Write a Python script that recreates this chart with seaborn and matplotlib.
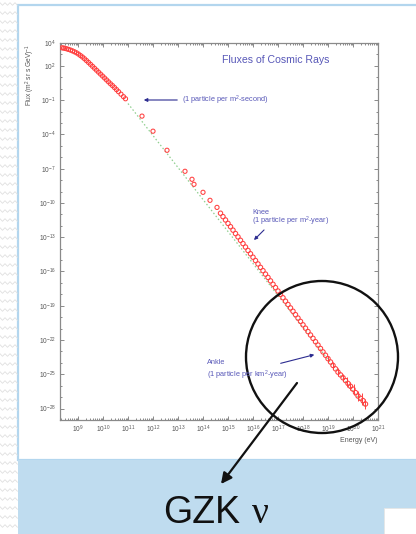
import numpy as np
import pandas as pd
import matplotlib
matplotlib.use("Agg")
import matplotlib.pyplot as plt
import seaborn as sns
from matplotlib.patches import Circle, Rectangle, FancyArrowPatch
from matplotlib.ticker import FixedLocator, FuncFormatter, NullFormatter

sns.set_style("ticks")
plt.rcParams['font.family'] = ['Liberation Sans', 'DejaVu Sans']
plt.rcParams['mathtext.fontset'] = 'custom'
plt.rcParams['mathtext.rm'] = 'Liberation Sans'
plt.rcParams['mathtext.it'] = 'Liberation Sans'

# ---------------- data (log10 energy [eV], log10 flux) ----------------
low_logE = [8.36, 8.42, 8.48, 8.55, 8.62, 8.70, 8.78, 8.86, 8.94, 9.02, 9.10,
            9.18, 9.26, 9.34, 9.42, 9.50, 9.58, 9.66, 9.74, 9.82, 9.90, 9.98,
            10.06, 10.14, 10.22, 10.30, 10.38, 10.46, 10.54, 10.62, 10.72,
            10.82, 10.90]
low_logF = [3.58, 3.56, 3.53, 3.49, 3.44, 3.38, 3.31, 3.23, 3.14, 3.03, 2.90,
            2.77, 2.62, 2.46, 2.30, 2.13, 1.96, 1.79, 1.62, 1.45, 1.28, 1.11,
            0.94, 0.77, 0.60, 0.43, 0.27, 0.10, -0.08, -0.26, -0.48,
            -0.70, -0.88]

mid_logE = [11.56, 12.00, 12.56, 13.28, 13.56, 13.64, 14.00, 14.28, 14.56]
mid_logF = [-2.40, -3.72, -5.39, -7.23, -7.93, -8.37, -9.07, -9.77, -10.39]

high_logE = [14.7, 14.8, 14.9, 15.0, 15.1, 15.2, 15.3, 15.4, 15.5, 15.6, 15.7,
             15.8, 15.9, 16.0, 16.1, 16.2, 16.3, 16.4, 16.5, 16.6, 16.7, 16.8,
             16.9, 17.0, 17.1, 17.2, 17.3, 17.4, 17.5, 17.6, 17.7, 17.8, 17.9,
             18.0, 18.1, 18.2, 18.3, 18.4, 18.5, 18.6, 18.7, 18.8, 18.9, 19.0,
             19.1, 19.2, 19.3, 19.4, 19.5, 19.6, 19.7, 19.8, 19.9, 20.0, 20.1,
             20.2, 20.3, 20.4, 20.5]
high_logF = [-10.90, -11.20, -11.49, -11.79, -12.08, -12.38, -12.68, -12.97,
             -13.27, -13.56, -13.86, -14.16, -14.45, -14.75, -15.04, -15.34,
             -15.64, -15.93, -16.23, -16.52, -16.82, -17.12, -17.41, -17.71,
             -18.00, -18.30, -18.60, -18.89, -19.19, -19.48, -19.78, -20.08,
             -20.37, -20.67, -20.96, -21.26, -21.56, -21.85, -22.15, -22.44,
             -22.74, -23.04, -23.33, -23.63, -23.92, -24.22, -24.52, -24.81,
             -25.05, -25.30, -25.55, -25.80, -26.05, -26.30, -26.60, -26.90,
             -27.10, -27.30, -27.60]

err_logE = [19.0, 19.2, 19.4, 19.6, 19.75, 19.9, 20.05, 20.2, 20.35, 20.5]
err_logF = [-23.63, -24.22, -24.81, -25.30, -25.65, -26.00, -26.35, -26.90, -27.15, -27.60]
err_half = [0.25, 0.3, 0.35, 0.3, 0.45, 0.35, 0.5, 0.45, 0.5, 0.45]

fit_logE = [11.0, 20.5]
fit_logF = [-1.3, -27.9]

y_label_exps = [4, 2, -1, -4, -7, -10, -13, -16, -19, -22, -25, -28]
x_label_exps = list(range(9, 22))

RED = '#ff4040'
ANN = '#5858b8'
ARR = '#2c2c90'

W, H = 416, 534
fig = plt.figure(figsize=(W / 100, H / 100), dpi=100)
fig.patch.set_facecolor('white')

# background overlay (pixel coordinates)
bg = fig.add_axes([0, 0, 1, 1], zorder=0)
bg.set_xlim(0, W); bg.set_ylim(H, 0); bg.axis('off')
for y0 in np.arange(4, H, 9):
    xs = np.arange(0, 18.5, 2.5)
    ys = y0 + np.where(np.arange(len(xs)) % 2 == 0, -1.3, 1.3)
    bg.plot(xs, ys, color='#e0e0e0', lw=0.6)
bg.add_patch(Rectangle((18, 5), 420, 455, facecolor='white', edgecolor='#b3d6ee', lw=1.6))
bg.add_patch(Rectangle((18, 460), 400, 76, facecolor='#bfdcef', edgecolor='none'))
bg.add_patch(Rectangle((384, 508), 40, 30, facecolor='white', edgecolor='#e6e6e6', lw=0.6))

# main axes
ax = fig.add_axes([60 / W, 1 - 420 / H, 318 / W, 377 / H], zorder=1)
ax.set_facecolor('white')

df_low = pd.DataFrame({'E': 10.0 ** np.array(low_logE), 'F': 10.0 ** np.array(low_logF)})
df_mid = pd.DataFrame({'E': 10.0 ** np.array(mid_logE), 'F': 10.0 ** np.array(mid_logF)})
df_high = pd.DataFrame({'E': 10.0 ** np.array(high_logE), 'F': 10.0 ** np.array(high_logF)})
df_fit = pd.DataFrame({'E': 10.0 ** np.array(fit_logE), 'F': 10.0 ** np.array(fit_logF)})

ax.set_xscale('log'); ax.set_yscale('log')
sns.lineplot(data=df_fit, x='E', y='F', ax=ax, color='#8fcf8f', lw=0.9,
             linestyle=(0, (1.2, 1.8)), zorder=2)
for d, s in ((df_low, 9), (df_mid, 9), (df_high, 10)):
    sns.scatterplot(data=d, x='E', y='F', ax=ax, marker='o', s=s,
                    facecolor='none', edgecolor=RED, linewidth=0.75, zorder=3)
eE = 10.0 ** np.array(err_logE)
eF = np.array(err_logF); eh = np.array(err_half)
ax.vlines(eE, 10.0 ** (eF - eh), 10.0 ** (eF + eh), color=RED, lw=0.7, zorder=3)

ax.set_xlim(10 ** 8.28, 1e21)
ax.set_ylim(1e-29, 1e4)
ax.set_xlabel(''); ax.set_ylabel('')

ax.xaxis.set_major_locator(FixedLocator([10.0 ** e for e in x_label_exps]))
ax.xaxis.set_minor_locator(FixedLocator([m * 10.0 ** e for e in range(8, 21) for m in range(2, 10)
                                         if 10 ** 8.28 < m * 10.0 ** e < 1e21]))
ax.xaxis.set_major_formatter(FuncFormatter(lambda v, p: r'$10^{%d}$' % round(np.log10(v))))
ax.xaxis.set_minor_formatter(NullFormatter())
ax.yaxis.set_major_locator(FixedLocator([10.0 ** e for e in y_label_exps]))
ax.yaxis.set_minor_locator(FixedLocator([10.0 ** e for e in range(-29, 5)]))
ax.yaxis.set_major_formatter(FuncFormatter(lambda v, p: r'$10^{%d}$' % round(np.log10(v))))
ax.yaxis.set_minor_formatter(NullFormatter())
ax.tick_params(which='both', direction='in', top=True, right=True, color='#777777',
               labelsize=4.8, labelcolor='#555555', width=0.6)
ax.tick_params(which='major', length=3.2, pad=3)
ax.tick_params(which='minor', length=1.6)
for sp in ax.spines.values():
    sp.set_color('#8a8a8a'); sp.set_linewidth(0.9)

# foreground overlay (pixel coordinates)
fg = fig.add_axes([0, 0, 1, 1], zorder=5)
fg.set_xlim(0, W); fg.set_ylim(H, 0); fg.axis('off'); fg.patch.set_alpha(0)

fg.text(30, 75, r'Flux (m$^2$ sr s GeV)$^{-1}$', rotation=90, ha='center', va='center',
        fontsize=4.8, color='#555555')
fg.text(378, 440, 'Energy (eV)', ha='right', va='center', fontsize=5, color='#555555')
fg.text(222, 60, 'Fluxes of Cosmic Rays', ha='left', va='center', fontsize=7.6, color=ANN)

fg.text(182, 100, r'(1 particle per m$^2$-second)', ha='left', va='center', fontsize=5.3, color=ANN)
fg.add_patch(FancyArrowPatch((180, 100), (141, 100), arrowstyle='-|>', mutation_scale=5,
                             color=ARR, lw=0.8))
fg.text(252, 212, 'Knee', ha='left', va='center', fontsize=5.3, color=ANN)
fg.text(252, 221, r'(1 particle per m$^2$-year)', ha='left', va='center', fontsize=5.3, color=ANN)
fg.add_patch(FancyArrowPatch((266, 228), (252, 242), arrowstyle='-|>', mutation_scale=5,
                             color=ARR, lw=0.8))
fg.text(207, 363, 'Ankle', ha='left', va='center', fontsize=5.3, color=ANN)
fg.text(207, 375, r'(1 particle per km$^2$-year)', ha='left', va='center', fontsize=5.3, color=ANN)
fg.add_patch(FancyArrowPatch((278, 364), (317, 354), arrowstyle='-|>', mutation_scale=5,
                             color=ARR, lw=0.8))

fg.add_patch(Circle((322, 357), 76, fill=False, edgecolor='#111111', lw=1.7))
fg.add_patch(FancyArrowPatch((297, 383), (221, 484), arrowstyle='-|>', mutation_scale=16,
                             color='#111111', lw=1.6, shrinkA=0, shrinkB=0))

fg.text(163, 523, 'GZK', ha='left', va='baseline', fontsize=27, color='#111111')
fg.text(252, 523, 'ν', ha='left', va='baseline', fontsize=27, color='#111111',
        family=['Liberation Serif', 'DejaVu Serif'])

fig.savefig('out.png', dpi=100, facecolor='white')
